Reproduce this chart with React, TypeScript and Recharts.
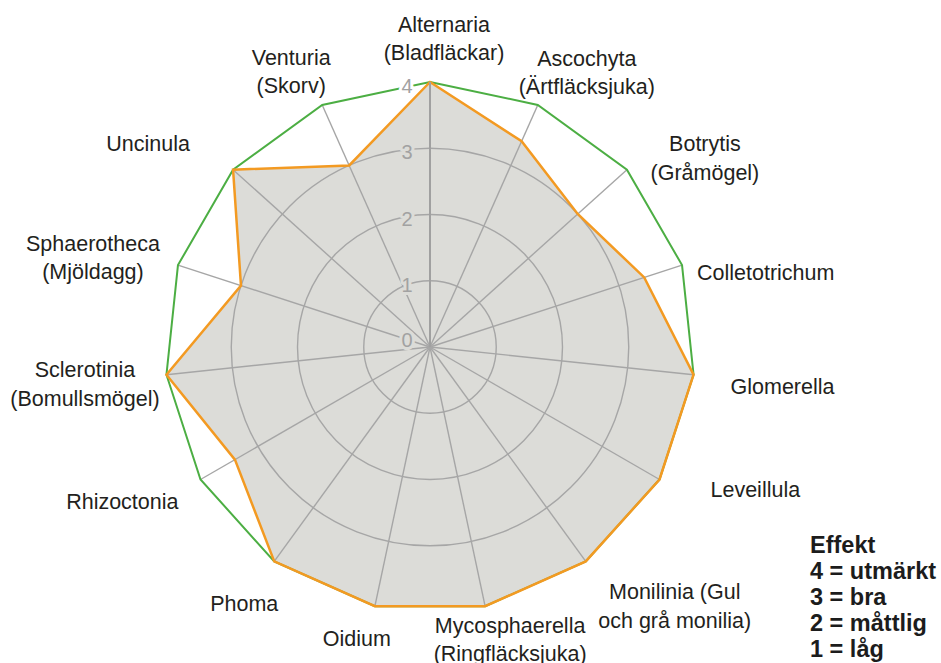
import React from 'react';
import { RadarChart, Radar, PolarGrid, PolarAngleAxis, PolarRadiusAxis } from 'recharts';

// ---------- data ----------
const categories = [
  'Alternaria', 'Ascochyta', 'Botrytis', 'Colletotrichum', 'Glomerella',
  'Leveillula', 'Monilinia', 'Mycosphaerella', 'Oidium', 'Phoma',
  'Rhizoctonia', 'Sclerotinia', 'Sphaerotheca', 'Uncinula', 'Venturia',
];
const categoryLabels = [
  ['Alternaria', '(Bladfläckar)'],
  ['Ascochyta', '(Ärtfläcksjuka)'],
  ['Botrytis', '(Gråmögel)'],
  ['Colletotrichum'],
  ['Glomerella'],
  ['Leveillula'],
  ['Monilinia (Gul', 'och grå monilia)'],
  ['Mycosphaerella', '(Ringfläcksjuka)'],
  ['Oidium'],
  ['Phoma'],
  ['Rhizoctonia'],
  ['Sclerotinia', '(Bomullsmögel)'],
  ['Sphaerotheca', '(Mjöldagg)'],
  ['Uncinula'],
  ['Venturia', '(Skorv)'],
];
const effectValues = [4, 3.4, 3, 3.4, 4, 4, 4, 4, 4, 4, 3.4, 4, 3, 4, 3];
const maxValues = [4, 4, 4, 4, 4, 4, 4, 4, 4, 4, 4, 4, 4, 4, 4];
const radiusTicks = [0, 1, 2, 3, 4];
const gridLevels = [1, 2, 3];
const legendTitle = 'Effekt';
const legendLines = ['4 = utmärkt', '3 = bra', '2 = måttlig', '1 = låg'];

// ---------- layout / style ----------
const W = 941;
const H = 663;
const CX = 430;
const CY = 347;
const R = 265;
const DOMAIN_MAX = 4;
const FONT = '"Liberation Sans", Arial, Helvetica, sans-serif';
const LABEL_SIZE = 21.5;
const LINE_H = 28.5;
const FILL = '#dcdcd8';
const GRID = '#a6a6a6';
const ORANGE = '#f39a22';
const GREEN = '#4cae43';
const TEXT = '#231f20';

// label placement relative to the axis vertex (anchor, dx, dy of first line's centre)
const LABEL_LAYOUT: { anchor: 'start' | 'middle' | 'end'; dx: number; dy: number }[] = [
  { anchor: 'middle', dx: 14, dy: -58 },
  { anchor: 'middle', dx: 49, dy: -47 },
  { anchor: 'middle', dx: 78, dy: -26 },
  { anchor: 'start', dx: 15, dy: 7 },
  { anchor: 'start', dx: 37, dy: 12 },
  { anchor: 'start', dx: 51, dy: 10 },
  { anchor: 'middle', dx: 89, dy: 30 },
  { anchor: 'middle', dx: 25, dy: 19 },
  { anchor: 'middle', dx: -18, dy: 32 },
  { anchor: 'middle', dx: -30, dy: 42 },
  { anchor: 'end', dx: -22, dy: 22 },
  { anchor: 'middle', dx: -81.5, dy: -5 },
  { anchor: 'middle', dx: -85, dy: -22 },
  { anchor: 'middle', dx: -85, dy: -26 },
  { anchor: 'middle', dx: -31, dy: -48 },
];

const chartData = categories.map((name, i) => ({
  name,
  value: effectValues[i],
  max: maxValues[i],
}));

const AngleTick = (props: any) => {
  const { x, y, index } = props;
  const i = typeof index === 'number' ? index : categories.indexOf(props.payload?.value);
  const lines = categoryLabels[i] || [String(props.payload?.value)];
  const layout = LABEL_LAYOUT[i];
  const ddx = x - CX;
  const ddy = y - CY;
  const len = Math.sqrt(ddx * ddx + ddy * ddy) || 1;
  const vx = CX + (ddx / len) * R;
  const vy = CY + (ddy / len) * R;
  const ax = vx + layout.dx;
  const firstCenter = vy + layout.dy;
  return (
    <text
      textAnchor={layout.anchor}
      fill={TEXT}
      fontSize={LABEL_SIZE}
      fontFamily={FONT}
    >
      {lines.map((ln, k) => (
        <tspan key={k} x={ax} y={firstCenter + k * LINE_H + LABEL_SIZE * 0.36}>
          {ln}
        </tspan>
      ))}
    </text>
  );
};

const RadiusTick = (props: any) => {
  const { x, y, payload } = props;
  const v = payload?.value;
  const cyText = v === 0 ? y - 7 : y + 4;
  const halo = v === DOMAIN_MAX ? '#ffffff' : FILL;
  return (
    <text
      x={x - 23}
      y={cyText + 7}
      textAnchor="middle"
      fontSize={20}
      fontFamily={FONT}
      fill="#a2a2a2"
      stroke={halo}
      strokeWidth={6}
      strokeLinejoin="round"
      style={{ paintOrder: 'stroke' } as any}
    >
      {v}
    </text>
  );
};

export default function App() {
  const gridRadii = gridLevels.map((v) => (v / DOMAIN_MAX) * R);
  return (
    <div style={{ position: 'absolute', left: 0, top: 0, width: W, height: H, background: '#fff', overflow: 'hidden' }}>
      <RadarChart
        width={W}
        height={H}
        data={chartData}
        cx={CX}
        cy={CY}
        outerRadius={R}
        margin={{ top: 0, right: 0, bottom: 0, left: 0 }}
      >
        <Radar
          dataKey="value"
          fill={FILL}
          fillOpacity={1}
          stroke="none"
          isAnimationActive={false}
        />
        <PolarGrid
          gridType="circle"
          polarRadius={gridRadii}
          stroke={GRID}
          strokeWidth={1.4}
          {...({ zIndex: 150 } as any)}
        />
        <PolarAngleAxis
          dataKey="name"
          axisLine={false}
          tickLine={false}
          tick={AngleTick}
        />
        <Radar
          dataKey="max"
          fill="none"
          fillOpacity={0}
          stroke={GREEN}
          strokeWidth={2}
          isAnimationActive={false}
          {...({ zIndex: 300 } as any)}
        />
        <Radar
          dataKey="value"
          fill="none"
          fillOpacity={0}
          stroke={ORANGE}
          strokeWidth={2.5}
          isAnimationActive={false}
          {...({ zIndex: 310 } as any)}
        />
        <PolarRadiusAxis
          angle={90}
          domain={[0, DOMAIN_MAX]}
          type="number"
          ticks={radiusTicks as any}
          tickCount={radiusTicks.length}
          axisLine={{ stroke: '#a0a0a0', strokeWidth: 2 }}
          tickLine={false}
          tick={RadiusTick}
        />
      </RadarChart>
      <div
        style={{
          position: 'absolute',
          left: 810,
          top: 532,
          fontFamily: FONT,
          fontWeight: 700,
          fontSize: 23.5,
          lineHeight: '26px',
          color: '#1c1c1c',
          whiteSpace: 'nowrap',
        }}
      >
        <div>{legendTitle}</div>
        {legendLines.map((l) => (
          <div key={l}>{l}</div>
        ))}
      </div>
    </div>
  );
}
